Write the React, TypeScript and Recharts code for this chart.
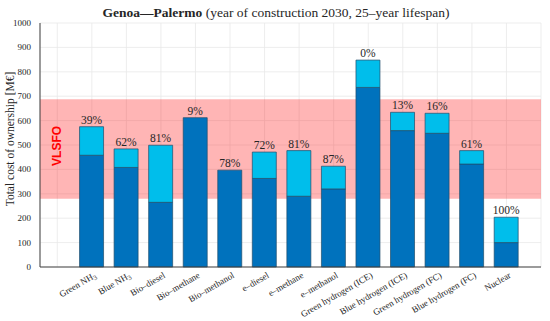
import React from 'react';
import { BarChart, Bar, XAxis, YAxis, CartesianGrid, ReferenceArea, LabelList } from 'recharts';

const categories = [
  'Green NH3', 'Blue NH3', 'Bio–diesel', 'Bio–methane', 'Bio–methanol', 'e–diesel', 'e–methane',
  'e–methanol', 'Green hydrogen (ICE)', 'Blue hydrogen (ICE)', 'Green hydrogen (FC)', 'Blue hydrogen (FC)', 'Nuclear',
];
const baseCost = [458, 408, 265, 612, 397, 363, 290, 320, 736, 559, 548, 422, 100];
const extraCost = [117, 76, 234, 0, 0, 108, 187, 93, 112, 75, 82, 55, 104];
const shareLabels = ['39%', '62%', '81%', '9%', '78%', '72%', '81%', '87%', '0%', '13%', '16%', '61%', '100%'];
const yTicks = [0, 100, 200, 300, 400, 500, 600, 700, 800, 900, 1000];
const xTicks = [0, 1, 2, 3, 4, 5, 6, 7, 8, 9, 10, 11, 12, 13, 14];
const vlsfoRange = [280, 688];

const data = categories.map((c, i) => ({
  pos: i + 1,
  name: c,
  base: baseCost[i],
  extra: extraCost[i],
  shareBase: extraCost[i] === 0 ? shareLabels[i] : '',
  shareTop: extraCost[i] > 0 ? shareLabels[i] : '',
}));

const SERIF = '"Liberation Serif", "DejaVu Serif", serif';
const TXT = '#262626';

const XTick = (props: any) => {
  const { x, y, payload } = props;
  const i = payload.value - 1;
  if (i < 0 || i >= categories.length) return null;
  const name = categories[i];
  const sub = name.endsWith('NH3');
  return (
    <g transform={`translate(${x + 5},${y + 2})`}>
      <text textAnchor="end" transform="rotate(-30)" fontSize={9} fontFamily={SERIF} fill={TXT}>
        {sub ? (
          <>
            <tspan>{name.slice(0, -1)}</tspan>
            <tspan dy={2} fontSize={7}>3</tspan>
          </>
        ) : (
          name
        )}
      </text>
    </g>
  );
};

const YTick = (props: any) => {
  const { x, y, payload } = props;
  return (
    <text x={x - 1} y={y} textAnchor="end" dominantBaseline="central" fontSize={9} fontFamily={SERIF} fill={TXT}>
      {payload.value}
    </text>
  );
};

const PctLabel = (props: any) => {
  const { x, y, width, value } = props;
  if (!value) return null;
  return (
    <text x={x + width / 2} y={y - 3} textAnchor="middle" fontSize={11.5} fontFamily={SERIF} fill={TXT}>
      {value}
    </text>
  );
};

const YLabel = (props: any) => {
  const vb = props.viewBox;
  const cx = vb.x + 10;
  const cy = vb.y + vb.height / 2 - 6;
  return (
    <text x={cx} y={cy} transform={`rotate(-90, ${cx}, ${cy})`} textAnchor="middle" dominantBaseline="central"
      fontSize={11.5} fontFamily={SERIF} fill={TXT}>
      Total cost of ownership [M€]
    </text>
  );
};

const BandLabel = (props: any) => {
  const vb = props.viewBox;
  const cx = vb.x + 17;
  const cy = vb.y + vb.height / 2 - 3;
  return (
    <text x={cx} y={cy} transform={`rotate(-90, ${cx}, ${cy})`} textAnchor="middle" dominantBaseline="central"
      fontSize={12} fontWeight="bold" fontFamily='"Liberation Sans", Arial, sans-serif' fill="#ff0000">
      VLSFO
    </text>
  );
};

export default function App() {
  return (
    <div style={{ position: 'absolute', left: 0, top: 0, width: 550, height: 321, background: '#fff' }}>
      <div style={{ position: 'absolute', left: 0, top: 5, width: 552, textAlign: 'center', fontFamily: SERIF, fontSize: 13.5, color: TXT, whiteSpace: 'nowrap', lineHeight: '15px' }}>
        <b>Genoa—Palermo</b> (year of construction 2030, 25–year lifespan)
      </div>
      <BarChart width={550} height={321} data={data} margin={{ top: 23, right: 9, bottom: 0, left: 0 }}>
        <CartesianGrid stroke="#e8e8e8" strokeWidth={0.8} />
        <XAxis dataKey="pos" type="number" domain={[-0.5, 14]} ticks={xTicks} interval={0} allowDataOverflow
          height={54} tickLine={false} axisLine={{ stroke: '#404040' }} tick={<XTick />} />
        <YAxis type="number" domain={[0, 1000]} ticks={yTicks} interval={0} width={40} tickLine={false}
          axisLine={{ stroke: '#404040' }} tick={<YTick />}
          label={{ content: <YLabel /> }} />
        <ReferenceArea y1={vlsfoRange[0]} y2={vlsfoRange[1]} fill="#ff1a1a" fillOpacity={0.32} stroke="none"
          ifOverflow="visible" label={{ content: <BandLabel /> }} />
        <Bar dataKey="base" stackId="a" fill="#0072BD" stroke="#1f4e6b" strokeWidth={0.7} barSize={24} isAnimationActive={false}>
          <LabelList dataKey="shareBase" content={<PctLabel />} />
        </Bar>
        <Bar dataKey="extra" stackId="a" fill="#00BEEB" stroke="#1f4e6b" strokeWidth={0.7} barSize={24} isAnimationActive={false}>
          <LabelList dataKey="shareTop" content={<PctLabel />} />
        </Bar>
      </BarChart>
    </div>
  );
}
